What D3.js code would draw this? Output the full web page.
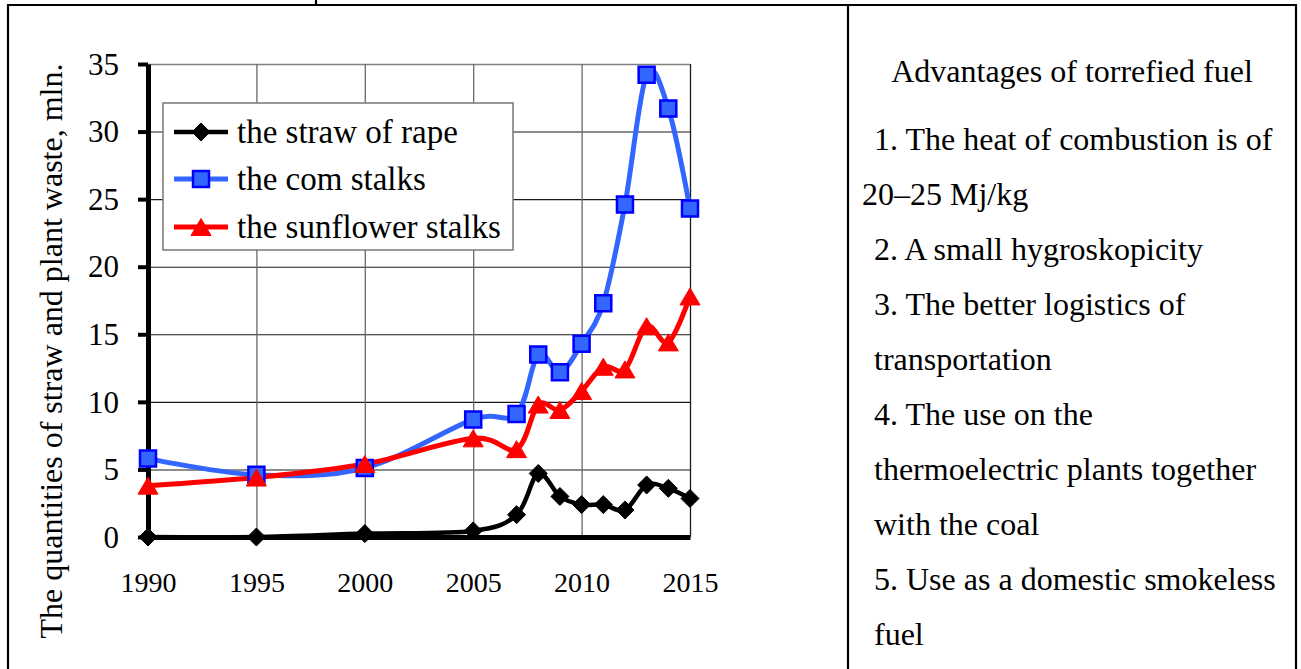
<!DOCTYPE html>
<html>
<head>
<meta charset="utf-8">
<script src="https://cdn.jsdelivr.net/npm/d3@7"></script>
<style>
  html, body { margin: 0; padding: 0; background: #fff; }
  svg { display: block; }
  text { font-family: "Liberation Serif", "Times New Roman", serif; fill: #000; }
</style>
</head>
<body>
<svg id="chart" width="1301" height="669"></svg>
<script>
// ---- data ----
const years = [1990, 1995, 2000, 2005, 2007, 2008, 2009, 2010, 2011, 2012, 2013, 2014, 2015];
const strawOfRape = [0, 0, 0.25, 0.45, 1.65, 4.7, 3.0, 2.4, 2.4, 2.0, 3.85, 3.6, 2.85];
const cornStalks = [5.8, 4.6, 5.1, 8.7, 9.1, 13.5, 12.2, 14.3, 17.3, 24.6, 34.2, 31.7, 24.3];
const sunflowerStalks = [3.8, 4.4, 5.4, 7.3, 6.5, 9.8, 9.4, 10.8, 12.6, 12.4, 15.6, 14.4, 17.8];
const seriesNames = ["the straw of rape", "the com stalks", "the sunflower stalks"];
const xTickValues = [1990, 1995, 2000, 2005, 2010, 2015];
const yTickValues = [0, 5, 10, 15, 20, 25, 30, 35];
const yAxisTitle = "The quantities of straw and plant waste, mln.";
const panelTitle = "Advantages of torrefied fuel";
const panelLines = [
  "\u00a01. The heat of combustion is of",
  "20\u201325 Mj/kg",
  "\u00a02. A small hygroskopicity",
  "\u00a03. The better logistics of",
  "\u00a0transportation",
  "\u00a04. The use on the",
  "\u00a0thermoelectric plants together",
  "\u00a0with the coal",
  "\u00a05. Use as a domestic smokeless",
  "\u00a0fuel"
];

const svg = d3.select("#chart");

// ---- outer table frame ----
const frame = svg.append("g").attr("stroke", "#000").attr("stroke-width", 2.2);
frame.append("line").attr("x1", 7).attr("x2", 1297).attr("y1", 5).attr("y2", 5);
frame.append("line").attr("x1", 8).attr("x2", 8).attr("y1", 5).attr("y2", 669);
frame.append("line").attr("x1", 848).attr("x2", 848).attr("y1", 5).attr("y2", 669);
frame.append("line").attr("x1", 1296).attr("x2", 1296).attr("y1", 5).attr("y2", 669);
frame.append("line").attr("x1", 316).attr("x2", 316).attr("y1", 0).attr("y2", 5);

// ---- scales ----
const plot = { left: 148, right: 690, top: 64, bottom: 537 };
const x = d3.scaleLinear().domain([1990, 2015]).range([plot.left, plot.right]);
const y = d3.scaleLinear().domain([0, 35]).range([plot.bottom, plot.top]);

// ---- gridlines ----
const gy = svg.append("g").attr("transform", `translate(${plot.left},0)`)
  .call(d3.axisLeft(y).tickValues(yTickValues.filter(v => v > 0)).tickSize(-(plot.right - plot.left)).tickFormat(""));
gy.select(".domain").remove();
gy.selectAll(".tick line").attr("stroke", d => d === 35 ? "#808080" : "#1a1a1a").attr("stroke-width", d => d === 35 ? 1.5 : 1.1);

const gx = svg.append("g").attr("transform", `translate(0,${plot.bottom})`)
  .call(d3.axisBottom(x).tickValues(xTickValues.filter(v => v > 1990)).tickSize(-(plot.bottom - plot.top)).tickFormat(""));
gx.select(".domain").remove();
gx.selectAll(".tick line").attr("stroke", d => d === 2015 ? "#1a1a1a" : "#6a6a6a").attr("stroke-width", 1.3);

// ---- y axis ----
const ya = svg.append("g").attr("transform", `translate(${plot.left},0)`)
  .call(d3.axisLeft(y).tickValues(yTickValues).tickSizeInner(10).tickSizeOuter(0).tickPadding(18).tickFormat(d3.format("d")));
ya.select(".domain").attr("stroke", "#000").attr("stroke-width", 5);
ya.selectAll(".tick line").attr("stroke", "#000").attr("stroke-width", 4);
ya.selectAll(".tick text").attr("font-size", 31).attr("font-family", "Liberation Serif, serif").attr("dy", "0.33em").attr("x", -29);

// ---- x axis ----
const xa = svg.append("g").attr("transform", `translate(0,${plot.bottom})`)
  .call(d3.axisBottom(x).tickValues(xTickValues).tickSize(0).tickPadding(0).tickFormat(d3.format("d")));
xa.select(".domain").attr("stroke", "#000").attr("stroke-width", 5);
xa.selectAll(".tick text").attr("font-size", 28).attr("font-family", "Liberation Serif, serif").attr("dy", 0).attr("y", 55);

// ---- series ----
const series = [
  { name: seriesNames[0], values: strawOfRape, line: "#000000", stroke: "#000000", fill: "#000000", width: 4.5, marker: "diamond" },
  { name: seriesNames[1], values: cornStalks, line: "#3366ff", stroke: "#0000ff", fill: "#3366ff", width: 5, marker: "square" },
  { name: seriesNames[2], values: sunflowerStalks, line: "#ff0000", stroke: "#ff0000", fill: "#ff0000", width: 5, marker: "triangle" }
];

function markerPath(type) {
  if (type === "diamond") return "M0,-9L9,0L0,9L-9,0Z";
  if (type === "square") return "M-8,-8H8V8H-8Z";
  return "M0,-8.5L10,8.5L-10,8.5Z";
}

const lineGen = d3.line().curve(d3.curveCardinal.tension(0)).x(d => x(d.year)).y(d => y(d.v));

series.forEach(s => {
  const pts = years.map((yr, i) => ({ year: yr, v: s.values[i] }));
  svg.append("path").datum(pts).attr("d", lineGen)
    .attr("fill", "none").attr("stroke", s.line).attr("stroke-width", s.width)
    .attr("stroke-linejoin", "round");
});
series.forEach(s => {
  const pts = years.map((yr, i) => ({ year: yr, v: s.values[i] }));
  svg.append("g").selectAll("path").data(pts).join("path")
    .attr("transform", d => `translate(${x(d.year)},${y(d.v)})`)
    .attr("d", markerPath(s.marker))
    .attr("fill", s.fill).attr("stroke", s.stroke)
    .attr("stroke-width", s.marker === "square" ? 2.5 : 1);
});

// ---- legend ----
const lg = svg.append("g");
lg.append("rect").attr("x", 163).attr("y", 103).attr("width", 350).attr("height", 147)
  .attr("fill", "#fff").attr("stroke", "#777").attr("stroke-width", 1.5);
const rowY = [132, 179, 227];
series.forEach((s, i) => {
  const g = lg.append("g").attr("transform", `translate(0,${rowY[i]})`);
  g.append("line").attr("x1", 174).attr("x2", 228).attr("y1", 0).attr("y2", 0)
    .attr("stroke", s.line).attr("stroke-width", s.width);
  g.append("path").attr("transform", "translate(201,0)").attr("d", markerPath(s.marker))
    .attr("fill", s.fill).attr("stroke", s.stroke).attr("stroke-width", s.marker === "square" ? 2.5 : 1);
  g.append("text").attr("x", 237).attr("y", 11).attr("font-size", 33).text(s.name);
});

// ---- y axis title ----
svg.append("text").attr("transform", "translate(62,351) rotate(-90)")
  .attr("text-anchor", "middle").attr("font-size", 32).text(yAxisTitle);

// ---- right panel ----
svg.append("text").attr("x", 1072).attr("y", 82).attr("text-anchor", "middle")
  .attr("font-size", 32).text(panelTitle);
const lineBase = [150, 205, 260, 315, 370, 425, 480, 535, 590, 645];
svg.append("g").selectAll("text").data(panelLines).join("text")
  .attr("x", (d, i) => i === 1 ? 862 : 866)
  .attr("y", (d, i) => lineBase[i])
  .attr("font-size", 32)
  .style("white-space", "pre")
  .text(d => d);
</script>
</body>
</html>
